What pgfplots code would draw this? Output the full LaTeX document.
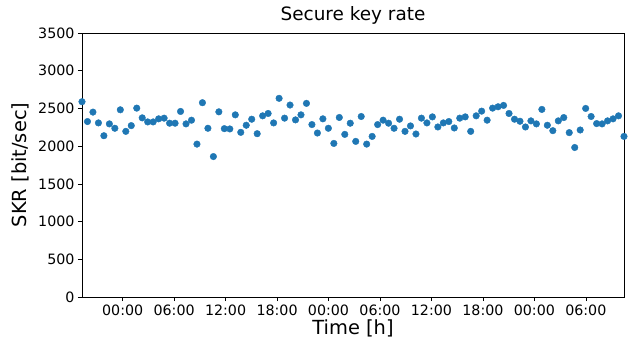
\documentclass[border=0pt]{standalone}
\usepackage{pgfplots}
\pgfplotsset{compat=1.18}
\usepackage{pgfplotstable}
\usepackage{fontspec}
\setmainfont{DejaVu Sans}
\definecolor{mplblue}{HTML}{1F77B4}
\pgfplotstableread{
skr
2589
2326
2451
2308
2138
2295
2237
2482
2196
2272
2504
2375
2321
2321
2362
2371
2304
2304
2460
2295
2344
2027
2576
2237
1862
2455
2232
2228
2415
2183
2277
2357
2165
2402
2433
2308
2634
2371
2545
2348
2415
2567
2286
2174
2362
2237
2036
2380
2156
2304
2063
2393
2027
2129
2286
2344
2304
2237
2357
2196
2268
2161
2371
2308
2388
2254
2308
2326
2241
2371
2388
2196
2402
2464
2344
2504
2522
2540
2433
2357
2330
2254
2335
2295
2487
2277
2205
2335
2379
2179
1982
2214
2500
2393
2299
2295
2335
2362
2402
2129
}\skrdata
\begin{document}
\begin{tikzpicture}
\useasboundingbox (0,0) rectangle (632bp,340bp);
\begin{axis}[
  at={(82bp,43bp)}, anchor=south west,
  width=542bp, height=264bp, scale only axis,
  xmin=0, xmax=99, ymin=0, ymax=3500,
  ytick={0,500,...,3500},
  xtick={7.43,16.83,26.23,35.63,45.03,54.43,63.83,73.23,82.63,92.03},
  xticklabels={00:00,06:00,12:00,18:00,00:00,06:00,12:00,18:00,00:00,06:00},
  tick align=outside, tick pos=left,
  major tick length=4bp,
  tick style={black, line width=0.6bp},
  axis line style={black, line width=0.6bp},
  /pgf/number format/assume math mode=true,
  /pgf/number format/1000 sep={},
  tick label style={font=\fontsize{14.3}{16}\selectfont},
  title={Secure key rate},
  title style={font=\fontsize{18.5}{21}\selectfont, at={(axis description cs:0.5,1)}, anchor=south, yshift=-1bp},
  xlabel={Time [h]},
  ylabel={SKR [bit/sec]},
  every axis x label/.style={at={(axis description cs:0.5,-0.12)}, anchor=center, font=\fontsize{19.5}{22}\selectfont},
  every axis y label/.style={at={(axis description cs:-0.113,0.5)}, rotate=90, anchor=center, font=\fontsize{19.5}{22}\selectfont},
  clip=true,
]
\addplot[only marks, mark=*, mark size=3.3bp, color=mplblue, mark options={draw=mplblue, fill=mplblue}]
  table[x expr=\coordindex, y=skr] {\skrdata};
\end{axis}
\end{tikzpicture}
\end{document}
